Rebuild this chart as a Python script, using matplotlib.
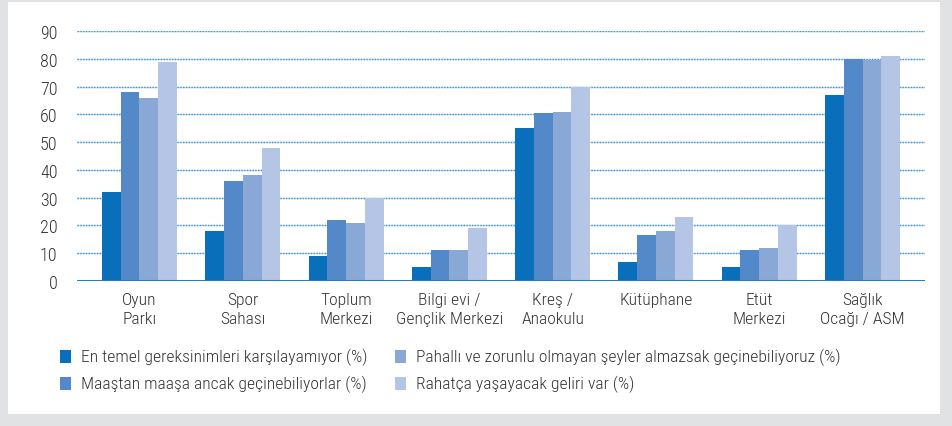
import matplotlib; matplotlib.use('Agg')
import matplotlib.pyplot as plt
import numpy as np
from matplotlib.patches import Rectangle

plt.rcParams['font.family'] = ['Liberation Sans Narrow', 'Roboto Condensed', 'Liberation Sans', 'DejaVu Sans']
plt.rcParams['font.weight'] = 'light'

categories = ['Oyun\nParkı', 'Spor\nSahası', 'Toplum\nMerkezi', 'Bilgi evi /\nGençlik Merkezi',
              'Kreş /\nAnaokulu', 'Kütüphane\n', 'Etüt\nMerkezi', 'Sağlık\nOcağı / ASM']
series = ['En temel gereksinimleri karşılayamıyor (%)',
          'Maaştan maaşa ancak geçinebiliyorlar (%)',
          'Pahallı ve zorunlu olmayan şeyler almazsak geçinebiliyoruz (%)',
          'Rahatça yaşayacak geliri var (%)']
temel = [32, 18, 9, 5, 55, 7, 5, 67]
maastan = [68, 36, 22, 11, 60.5, 16.5, 11, 80]
pahali = [66, 38, 21, 11, 61, 18, 12, 79.5]
rahat = [79, 48, 30, 19, 70, 23, 20, 81]
colors = ['#0a6fba', '#5389c8', '#89a8d6', '#b4c5e5']
text_c = '#333333'
fs = 12.6

W, H = 953, 427
fig = plt.figure(figsize=(W / 100, H / 100), dpi=100)
fig.patch.set_facecolor('#e1e2e4')
fig.patches.append(Rectangle((8 / W, 1 - 415 / H), (940 - 8) / W, (415 - 3) / H,
                             transform=fig.transFigure, facecolor='white', edgecolor='none', zorder=-5))

ax = fig.add_axes([77 / W, 1 - 282 / H, (925 - 77) / W, (282 - 32) / H])
ax.set_zorder(2)
ax.set_facecolor('none')
x = np.arange(len(categories))
bw = 0.1815
for i, vals in enumerate([temel, maastan, pahali, rahat]):
    ax.bar(x + (i - 1.5) * bw, vals, width=bw, color=colors[i], zorder=3, label=series[i])

ax.set_xlim(-0.605, 7.605)
ax.set_ylim(0, 90)
ax.set_yticks(range(0, 91, 10))
for yv in range(10, 91, 10):
    ax.axhline(yv, color='#c3dcf1', lw=1.0, zorder=1)
    ax.axhline(yv, color='#3f95d3', lw=1.0, ls=(0, (1, 1)), zorder=2)
ax.axhline(0, color='#1c7fcb', lw=2.2, zorder=4)
for s in ax.spines.values():
    s.set_visible(False)
ax.set_xticks(x)
ax.set_xticklabels(categories, linespacing=1.35, va='top')
ax.tick_params(axis='both', length=0, labelsize=fs, colors=text_c)
ax.tick_params(axis='y', pad=14, labelsize=13)
ax.tick_params(axis='x', pad=8)

# legend
leg_pos = [(60, 357), (60, 384), (395, 357), (395, 384)]
for (px, py), name, c in zip(leg_pos, series, colors):
    fig.patches.append(Rectangle((px / W, 1 - (py + 6.5) / H), 11 / W, 13 / H,
                                 transform=fig.transFigure, facecolor=c, edgecolor='none'))
    fig.text((px + 21) / W, 1 - py / H, name, fontsize=fs, color=text_c, va='center', ha='left')

fig.savefig('out.png', dpi=100, facecolor=fig.get_facecolor())
